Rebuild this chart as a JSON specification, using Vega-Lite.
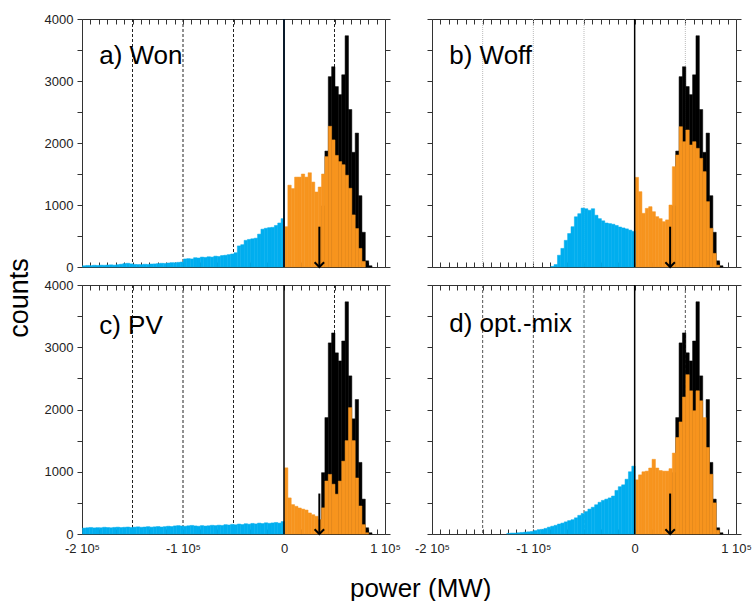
{
"$schema": "https://vega.github.io/schema/vega-lite/v6.json",
"background": "white",
"padding": {"left": 5, "top": 12, "right": 5, "bottom": 5},
"config": {
 "view": {"stroke": "#333", "strokeWidth": 1},
 "axis": {"domain": false, "grid": false, "tickColor": "#333", "labelFont": "Liberation Sans", "labelFontSize": 13, "labelColor": "#222"},
 "text": {"font": "Liberation Sans"},
 "title": {"font": "Liberation Sans", "fontWeight": "normal", "color": "#000"}
},
"datasets": {
 "refs": [{"x": -150000}, {"x": -100000}, {"x": -50000}, {"x": 50000}],
 "arrow": [{"x": 35000, "top": 650, "bottom": 0}],
 "labels": [{"p": "a", "label": "a) Won"}, {"p": "b", "label": "b) Woff"}, {"p": "c", "label": "c) PV"}, {"p": "d", "label": "d) opt.-mix"}],
 "load": [
  {"x":36667,"c":985},{"x":40000,"c":1870},{"x":43333,"c":3070},{"x":46667,"c":3230},{"x":50000,"c":2910},{"x":53333,"c":2780},{"x":56667,"c":3100},{"x":60000,"c":3730},{"x":63333,"c":2540},{"x":66667,"c":1850},{"x":70000,"c":2160},{"x":73333,"c":1150},{"x":76667,"c":560},{"x":80000,"c":100},{"x":83333,"c":20}
 ],
 "hist": [
  {"p":"a","s":"neg","x":-200000,"c":20},{"p":"a","s":"neg","x":-196667,"c":25},{"p":"a","s":"neg","x":-193333,"c":22},{"p":"a","s":"neg","x":-190000,"c":28},{"p":"a","s":"neg","x":-186667,"c":25},{"p":"a","s":"neg","x":-183333,"c":30},{"p":"a","s":"neg","x":-180000,"c":28},{"p":"a","s":"neg","x":-176667,"c":32},{"p":"a","s":"neg","x":-173333,"c":35},{"p":"a","s":"neg","x":-170000,"c":30},{"p":"a","s":"neg","x":-166667,"c":38},{"p":"a","s":"neg","x":-163333,"c":45},{"p":"a","s":"neg","x":-160000,"c":55},{"p":"a","s":"neg","x":-156667,"c":60},{"p":"a","s":"neg","x":-153333,"c":50},{"p":"a","s":"neg","x":-150000,"c":42},{"p":"a","s":"neg","x":-146667,"c":40},{"p":"a","s":"neg","x":-143333,"c":38},{"p":"a","s":"neg","x":-140000,"c":45},{"p":"a","s":"neg","x":-136667,"c":42},{"p":"a","s":"neg","x":-133333,"c":48},{"p":"a","s":"neg","x":-130000,"c":50},{"p":"a","s":"neg","x":-126667,"c":55},{"p":"a","s":"neg","x":-123333,"c":60},{"p":"a","s":"neg","x":-120000,"c":58},{"p":"a","s":"neg","x":-116667,"c":65},{"p":"a","s":"neg","x":-113333,"c":70},{"p":"a","s":"neg","x":-110000,"c":68},{"p":"a","s":"neg","x":-106667,"c":75},{"p":"a","s":"neg","x":-103333,"c":80},{"p":"a","s":"neg","x":-100000,"c":130},{"p":"a","s":"neg","x":-96667,"c":135},{"p":"a","s":"neg","x":-93333,"c":130},{"p":"a","s":"neg","x":-90000,"c":150},{"p":"a","s":"neg","x":-86667,"c":145},{"p":"a","s":"neg","x":-83333,"c":160},{"p":"a","s":"neg","x":-80000,"c":155},{"p":"a","s":"neg","x":-76667,"c":165},{"p":"a","s":"neg","x":-73333,"c":160},{"p":"a","s":"neg","x":-70000,"c":175},{"p":"a","s":"neg","x":-66667,"c":170},{"p":"a","s":"neg","x":-63333,"c":185},{"p":"a","s":"neg","x":-60000,"c":190},{"p":"a","s":"neg","x":-56667,"c":200},{"p":"a","s":"neg","x":-53333,"c":210},{"p":"a","s":"neg","x":-50000,"c":230},{"p":"a","s":"neg","x":-46667,"c":340},{"p":"a","s":"neg","x":-43333,"c":360},{"p":"a","s":"neg","x":-40000,"c":430},{"p":"a","s":"neg","x":-36667,"c":445},{"p":"a","s":"neg","x":-33333,"c":455},{"p":"a","s":"neg","x":-30000,"c":465},{"p":"a","s":"neg","x":-26667,"c":530},{"p":"a","s":"neg","x":-23333,"c":610},{"p":"a","s":"neg","x":-20000,"c":625},{"p":"a","s":"neg","x":-16667,"c":635},{"p":"a","s":"neg","x":-13333,"c":640},{"p":"a","s":"neg","x":-10000,"c":670},{"p":"a","s":"neg","x":-6667,"c":710},{"p":"a","s":"neg","x":-3333,"c":780},
  {"p":"a","s":"pos","x":0,"c":650},{"p":"a","s":"pos","x":3333,"c":1320},{"p":"a","s":"pos","x":6667,"c":1265},{"p":"a","s":"pos","x":10000,"c":1450},{"p":"a","s":"pos","x":13333,"c":1450},{"p":"a","s":"pos","x":16667,"c":1500},{"p":"a","s":"pos","x":20000,"c":1450},{"p":"a","s":"pos","x":23333,"c":1520},{"p":"a","s":"pos","x":26667,"c":1370},{"p":"a","s":"pos","x":30000,"c":1210},{"p":"a","s":"pos","x":33333,"c":1290},{"p":"a","s":"pos","x":36667,"c":1500},{"p":"a","s":"pos","x":40000,"c":1780},{"p":"a","s":"pos","x":43333,"c":2270},{"p":"a","s":"pos","x":46667,"c":2050},{"p":"a","s":"pos","x":50000,"c":1800},{"p":"a","s":"pos","x":53333,"c":1700},{"p":"a","s":"pos","x":56667,"c":1650},{"p":"a","s":"pos","x":60000,"c":1480},{"p":"a","s":"pos","x":63333,"c":1270},{"p":"a","s":"pos","x":66667,"c":840},{"p":"a","s":"pos","x":70000,"c":620},{"p":"a","s":"pos","x":73333,"c":300},{"p":"a","s":"pos","x":76667,"c":90},
  {"p":"b","s":"neg","x":-83333,"c":10},{"p":"b","s":"neg","x":-80000,"c":40},{"p":"b","s":"neg","x":-76667,"c":190},{"p":"b","s":"neg","x":-73333,"c":300},{"p":"b","s":"neg","x":-70000,"c":430},{"p":"b","s":"neg","x":-66667,"c":540},{"p":"b","s":"neg","x":-63333,"c":650},{"p":"b","s":"neg","x":-60000,"c":810},{"p":"b","s":"neg","x":-56667,"c":860},{"p":"b","s":"neg","x":-53333,"c":950},{"p":"b","s":"neg","x":-50000,"c":940},{"p":"b","s":"neg","x":-46667,"c":915},{"p":"b","s":"neg","x":-43333,"c":940},{"p":"b","s":"neg","x":-40000,"c":835},{"p":"b","s":"neg","x":-36667,"c":780},{"p":"b","s":"neg","x":-33333,"c":745},{"p":"b","s":"neg","x":-30000,"c":710},{"p":"b","s":"neg","x":-26667,"c":700},{"p":"b","s":"neg","x":-23333,"c":690},{"p":"b","s":"neg","x":-20000,"c":670},{"p":"b","s":"neg","x":-16667,"c":645},{"p":"b","s":"neg","x":-13333,"c":630},{"p":"b","s":"neg","x":-10000,"c":615},{"p":"b","s":"neg","x":-6667,"c":595},{"p":"b","s":"neg","x":-3333,"c":575},
  {"p":"b","s":"pos","x":0,"c":1446},{"p":"b","s":"pos","x":3333,"c":1215},{"p":"b","s":"pos","x":6667,"c":866},{"p":"b","s":"pos","x":10000,"c":946},{"p":"b","s":"pos","x":13333,"c":973},{"p":"b","s":"pos","x":16667,"c":892},{"p":"b","s":"pos","x":20000,"c":812},{"p":"b","s":"pos","x":23333,"c":780},{"p":"b","s":"pos","x":26667,"c":731},{"p":"b","s":"pos","x":30000,"c":760},{"p":"b","s":"pos","x":33333,"c":1000},{"p":"b","s":"pos","x":36667,"c":1618},{"p":"b","s":"pos","x":40000,"c":1806},{"p":"b","s":"pos","x":43333,"c":2263},{"p":"b","s":"pos","x":46667,"c":2021},{"p":"b","s":"pos","x":50000,"c":2210},{"p":"b","s":"pos","x":53333,"c":1968},{"p":"b","s":"pos","x":56667,"c":2021},{"p":"b","s":"pos","x":60000,"c":1914},{"p":"b","s":"pos","x":63333,"c":1753},{"p":"b","s":"pos","x":66667,"c":1538},{"p":"b","s":"pos","x":70000,"c":1054},{"p":"b","s":"pos","x":73333,"c":624},{"p":"b","s":"pos","x":76667,"c":220},{"p":"b","s":"pos","x":80000,"c":30},
  {"p":"c","s":"neg","x":-200000,"c":95},{"p":"c","s":"neg","x":-196667,"c":100},{"p":"c","s":"neg","x":-193333,"c":105},{"p":"c","s":"neg","x":-190000,"c":98},{"p":"c","s":"neg","x":-186667,"c":102},{"p":"c","s":"neg","x":-183333,"c":100},{"p":"c","s":"neg","x":-180000,"c":108},{"p":"c","s":"neg","x":-176667,"c":104},{"p":"c","s":"neg","x":-173333,"c":100},{"p":"c","s":"neg","x":-170000,"c":106},{"p":"c","s":"neg","x":-166667,"c":110},{"p":"c","s":"neg","x":-163333,"c":104},{"p":"c","s":"neg","x":-160000,"c":108},{"p":"c","s":"neg","x":-156667,"c":112},{"p":"c","s":"neg","x":-153333,"c":105},{"p":"c","s":"neg","x":-150000,"c":110},{"p":"c","s":"neg","x":-146667,"c":115},{"p":"c","s":"neg","x":-143333,"c":108},{"p":"c","s":"neg","x":-140000,"c":112},{"p":"c","s":"neg","x":-136667,"c":118},{"p":"c","s":"neg","x":-133333,"c":110},{"p":"c","s":"neg","x":-130000,"c":115},{"p":"c","s":"neg","x":-126667,"c":120},{"p":"c","s":"neg","x":-123333,"c":112},{"p":"c","s":"neg","x":-120000,"c":118},{"p":"c","s":"neg","x":-116667,"c":125},{"p":"c","s":"neg","x":-113333,"c":120},{"p":"c","s":"neg","x":-110000,"c":130},{"p":"c","s":"neg","x":-106667,"c":135},{"p":"c","s":"neg","x":-103333,"c":128},{"p":"c","s":"neg","x":-100000,"c":125},{"p":"c","s":"neg","x":-96667,"c":132},{"p":"c","s":"neg","x":-93333,"c":138},{"p":"c","s":"neg","x":-90000,"c":130},{"p":"c","s":"neg","x":-86667,"c":125},{"p":"c","s":"neg","x":-83333,"c":135},{"p":"c","s":"neg","x":-80000,"c":128},{"p":"c","s":"neg","x":-76667,"c":132},{"p":"c","s":"neg","x":-73333,"c":140},{"p":"c","s":"neg","x":-70000,"c":135},{"p":"c","s":"neg","x":-66667,"c":142},{"p":"c","s":"neg","x":-63333,"c":138},{"p":"c","s":"neg","x":-60000,"c":150},{"p":"c","s":"neg","x":-56667,"c":145},{"p":"c","s":"neg","x":-53333,"c":155},{"p":"c","s":"neg","x":-50000,"c":148},{"p":"c","s":"neg","x":-46667,"c":160},{"p":"c","s":"neg","x":-43333,"c":152},{"p":"c","s":"neg","x":-40000,"c":165},{"p":"c","s":"neg","x":-36667,"c":158},{"p":"c","s":"neg","x":-33333,"c":170},{"p":"c","s":"neg","x":-30000,"c":162},{"p":"c","s":"neg","x":-26667,"c":175},{"p":"c","s":"neg","x":-23333,"c":168},{"p":"c","s":"neg","x":-20000,"c":180},{"p":"c","s":"neg","x":-16667,"c":172},{"p":"c","s":"neg","x":-13333,"c":178},{"p":"c","s":"neg","x":-10000,"c":185},{"p":"c","s":"neg","x":-6667,"c":175},{"p":"c","s":"neg","x":-3333,"c":200},
  {"p":"c","s":"pos","x":0,"c":1063},{"p":"c","s":"pos","x":3333,"c":580},{"p":"c","s":"pos","x":6667,"c":472},{"p":"c","s":"pos","x":10000,"c":445},{"p":"c","s":"pos","x":13333,"c":418},{"p":"c","s":"pos","x":16667,"c":400},{"p":"c","s":"pos","x":20000,"c":385},{"p":"c","s":"pos","x":23333,"c":338},{"p":"c","s":"pos","x":26667,"c":310},{"p":"c","s":"pos","x":30000,"c":285},{"p":"c","s":"pos","x":33333,"c":231},{"p":"c","s":"pos","x":36667,"c":420},{"p":"c","s":"pos","x":40000,"c":851},{"p":"c","s":"pos","x":43333,"c":958},{"p":"c","s":"pos","x":46667,"c":800},{"p":"c","s":"pos","x":50000,"c":640},{"p":"c","s":"pos","x":53333,"c":850},{"p":"c","s":"pos","x":56667,"c":1170},{"p":"c","s":"pos","x":60000,"c":1500},{"p":"c","s":"pos","x":63333,"c":2030},{"p":"c","s":"pos","x":66667,"c":1500},{"p":"c","s":"pos","x":70000,"c":900},{"p":"c","s":"pos","x":73333,"c":450},{"p":"c","s":"pos","x":76667,"c":150},{"p":"c","s":"pos","x":80000,"c":20},
  {"p":"d","s":"neg","x":-126667,"c":10},{"p":"d","s":"neg","x":-123333,"c":15},{"p":"d","s":"neg","x":-120000,"c":15},{"p":"d","s":"neg","x":-116667,"c":20},{"p":"d","s":"neg","x":-113333,"c":25},{"p":"d","s":"neg","x":-110000,"c":30},{"p":"d","s":"neg","x":-106667,"c":35},{"p":"d","s":"neg","x":-103333,"c":40},{"p":"d","s":"neg","x":-100000,"c":55},{"p":"d","s":"neg","x":-96667,"c":70},{"p":"d","s":"neg","x":-93333,"c":75},{"p":"d","s":"neg","x":-90000,"c":90},{"p":"d","s":"neg","x":-86667,"c":110},{"p":"d","s":"neg","x":-83333,"c":125},{"p":"d","s":"neg","x":-80000,"c":140},{"p":"d","s":"neg","x":-76667,"c":160},{"p":"d","s":"neg","x":-73333,"c":175},{"p":"d","s":"neg","x":-70000,"c":195},{"p":"d","s":"neg","x":-66667,"c":215},{"p":"d","s":"neg","x":-63333,"c":230},{"p":"d","s":"neg","x":-60000,"c":260},{"p":"d","s":"neg","x":-56667,"c":300},{"p":"d","s":"neg","x":-53333,"c":330},{"p":"d","s":"neg","x":-50000,"c":360},{"p":"d","s":"neg","x":-46667,"c":400},{"p":"d","s":"neg","x":-43333,"c":430},{"p":"d","s":"neg","x":-40000,"c":470},{"p":"d","s":"neg","x":-36667,"c":510},{"p":"d","s":"neg","x":-33333,"c":540},{"p":"d","s":"neg","x":-30000,"c":560},{"p":"d","s":"neg","x":-26667,"c":580},{"p":"d","s":"neg","x":-23333,"c":610},{"p":"d","s":"neg","x":-20000,"c":700},{"p":"d","s":"neg","x":-16667,"c":760},{"p":"d","s":"neg","x":-13333,"c":790},{"p":"d","s":"neg","x":-10000,"c":880},{"p":"d","s":"neg","x":-6667,"c":1000},{"p":"d","s":"neg","x":-3333,"c":1090},
  {"p":"d","s":"pos","x":0,"c":870},{"p":"d","s":"pos","x":3333,"c":950},{"p":"d","s":"pos","x":6667,"c":1000},{"p":"d","s":"pos","x":10000,"c":1010},{"p":"d","s":"pos","x":13333,"c":1060},{"p":"d","s":"pos","x":16667,"c":1200},{"p":"d","s":"pos","x":20000,"c":1060},{"p":"d","s":"pos","x":23333,"c":1020},{"p":"d","s":"pos","x":26667,"c":1010},{"p":"d","s":"pos","x":30000,"c":1010},{"p":"d","s":"pos","x":33333,"c":1050},{"p":"d","s":"pos","x":36667,"c":1300},{"p":"d","s":"pos","x":40000,"c":1550},{"p":"d","s":"pos","x":43333,"c":1800},{"p":"d","s":"pos","x":46667,"c":2200},{"p":"d","s":"pos","x":50000,"c":2560},{"p":"d","s":"pos","x":53333,"c":2300},{"p":"d","s":"pos","x":56667,"c":1980},{"p":"d","s":"pos","x":60000,"c":2300},{"p":"d","s":"pos","x":63333,"c":2140},{"p":"d","s":"pos","x":66667,"c":1870},{"p":"d","s":"pos","x":70000,"c":1390},{"p":"d","s":"pos","x":73333,"c":960},{"p":"d","s":"pos","x":76667,"c":500},{"p":"d","s":"pos","x":80000,"c":60}
 ]
},
"title": {"text": "power (MW)", "orient": "bottom", "anchor": "middle", "fontSize": 26, "offset": 20, "dx": 42},
"vconcat": [{
 "title": {"text": "counts", "orient": "left", "anchor": "middle", "fontSize": 27, "offset": 10, "dx": -14},
 "spacing": 3,
 "vconcat": [
 {"hconcat": [
  {"width": 303, "height": 248,
   "layer": [
    {"data": {"name": "refs"}, "mark": {"type": "rule", "strokeDash": [3, 2], "strokeWidth": 1, "color": "#222"}, "encoding": {"x": {"field": "x", "type": "quantitative", "scale": {"domain": [-200000, 100000], "nice": false, "zero": false}, "axis": null}}},
    {"data": {"name": "load"}, "mark": {"type": "bar", "color": "#000", "stroke": "#000", "strokeWidth": 0.5, "binSpacing": 0},
     "encoding": {"x": {"field": "x", "type": "quantitative", "bin": {"binned": true, "step": 3333.33}, "scale": {"domain": [-200000, 100000], "nice": false, "zero": false}, "axis": {"orient": "bottom", "title": null, "values": [-200000,-191666.67,-183333.33,-175000,-166666.67,-158333.33,-150000,-141666.67,-133333.33,-125000,-116666.67,-108333.33,-100000,-91666.67,-83333.33,-75000,-66666.67,-58333.33,-50000,-41666.67,-33333.33,-25000,-16666.67,-8333.33,0,8333.33,16666.67,25000,33333.33,41666.67,50000,58333.33,66666.67,75000,83333.33,91666.67,100000], "tickSize": -5, "labels": false}},
      "y": {"field": "c", "type": "quantitative", "scale": {"domain": [0, 4000], "nice": false}, "axis": {"orient": "left", "title": null, "values": [0,500,1000,1500,2000,2500,3000,3500,4000], "format": "d", "labelExpr": "datum.value % 1000 == 0 ? datum.label : ''", "tickSize": 5, "labelPadding": 4, "labelOverlap": false}}}},
    {"data": {"name": "hist"}, "transform": [{"filter": "datum.p == 'a' && datum.s == 'pos'"}], "mark": {"type": "bar", "color": "#F7941E", "stroke": "#F7941E", "strokeWidth": 0.5, "binSpacing": 0},
     "encoding": {"x": {"field": "x", "type": "quantitative", "bin": {"binned": true, "step": 3333.33}, "axis": {"orient": "top", "title": null, "values": [-200000,-191666.67,-183333.33,-175000,-166666.67,-158333.33,-150000,-141666.67,-133333.33,-125000,-116666.67,-108333.33,-100000,-91666.67,-83333.33,-75000,-66666.67,-58333.33,-50000,-41666.67,-33333.33,-25000,-16666.67,-8333.33,0,8333.33,16666.67,25000,33333.33,41666.67,50000,58333.33,66666.67,75000,83333.33,91666.67,100000], "tickSize": -5, "labels": false}},
      "y": {"field": "c", "type": "quantitative", "axis": {"orient": "right", "title": null, "values": [0,500,1000,1500,2000,2500,3000,3500,4000], "tickSize": 5, "labels": false}}}},
    {"data": {"name": "hist"}, "transform": [{"filter": "datum.p == 'a' && datum.s == 'neg'"}], "mark": {"type": "bar", "color": "#00AEEF", "stroke": "#00AEEF", "strokeWidth": 0.5, "binSpacing": 0},
     "encoding": {"x": {"field": "x", "type": "quantitative", "bin": {"binned": true, "step": 3333.33}, "axis": null}, "y": {"field": "c", "type": "quantitative", "axis": null}}},
    {"data": {"values": [{}]}, "mark": {"type": "rule", "strokeWidth": 2, "color": "#0a1a2a"}, "encoding": {"x": {"datum": 0, "type": "quantitative", "axis": null}}},
    {"data": {"name": "arrow"}, "mark": {"type": "rule", "strokeWidth": 2, "color": "#000"}, "encoding": {"x": {"field": "x", "type": "quantitative", "axis": null}, "y": {"field": "top", "type": "quantitative", "axis": null}, "y2": {"field": "bottom"}}},
    {"data": {"name": "arrow"}, "mark": {"type": "point", "shape": "M-1,-1L0,0L1,-1", "filled": false, "size": 90, "strokeWidth": 2, "color": "#000", "opacity": 1}, "encoding": {"x": {"field": "x", "type": "quantitative", "axis": null}, "y": {"field": "bottom", "type": "quantitative", "axis": null}}},
    {"data": {"name": "labels"}, "transform": [{"filter": "datum.p == 'a'"}], "mark": {"type": "text", "align": "left", "baseline": "alphabetic", "fontSize": 26, "color": "#000"}, "encoding": {"x": {"datum": -183000, "type": "quantitative", "axis": null}, "y": {"datum": 3270, "type": "quantitative", "axis": null}, "text": {"field": "label"}}}
   ],
   "resolve": {"axis": {"x": "independent", "y": "independent"}}
  },
  {"width": 304, "height": 248,
   "layer": [
    {"data": {"name": "refs"}, "mark": {"type": "rule", "strokeDash": [1, 1], "strokeWidth": 1, "color": "#bbb"}, "encoding": {"x": {"field": "x", "type": "quantitative", "scale": {"domain": [-200000, 100000], "nice": false, "zero": false}, "axis": null}}},
    {"data": {"name": "load"}, "mark": {"type": "bar", "color": "#000", "stroke": "#000", "strokeWidth": 0.5, "binSpacing": 0},
     "encoding": {"x": {"field": "x", "type": "quantitative", "bin": {"binned": true, "step": 3333.33}, "scale": {"domain": [-200000, 100000], "nice": false, "zero": false}, "axis": {"orient": "bottom", "title": null, "values": [-200000,-191666.67,-183333.33,-175000,-166666.67,-158333.33,-150000,-141666.67,-133333.33,-125000,-116666.67,-108333.33,-100000,-91666.67,-83333.33,-75000,-66666.67,-58333.33,-50000,-41666.67,-33333.33,-25000,-16666.67,-8333.33,0,8333.33,16666.67,25000,33333.33,41666.67,50000,58333.33,66666.67,75000,83333.33,91666.67,100000], "tickSize": -5, "labels": false}},
      "y": {"field": "c", "type": "quantitative", "scale": {"domain": [0, 4000], "nice": false}, "axis": {"orient": "left", "title": null, "values": [0,500,1000,1500,2000,2500,3000,3500,4000], "tickSize": 5, "labels": false}}}},
    {"data": {"name": "hist"}, "transform": [{"filter": "datum.p == 'b' && datum.s == 'pos'"}], "mark": {"type": "bar", "color": "#F7941E", "stroke": "#F7941E", "strokeWidth": 0.5, "binSpacing": 0},
     "encoding": {"x": {"field": "x", "type": "quantitative", "bin": {"binned": true, "step": 3333.33}, "axis": {"orient": "top", "title": null, "values": [-200000,-191666.67,-183333.33,-175000,-166666.67,-158333.33,-150000,-141666.67,-133333.33,-125000,-116666.67,-108333.33,-100000,-91666.67,-83333.33,-75000,-66666.67,-58333.33,-50000,-41666.67,-33333.33,-25000,-16666.67,-8333.33,0,8333.33,16666.67,25000,33333.33,41666.67,50000,58333.33,66666.67,75000,83333.33,91666.67,100000], "tickSize": -5, "labels": false}},
      "y": {"field": "c", "type": "quantitative", "axis": {"orient": "right", "title": null, "values": [0,500,1000,1500,2000,2500,3000,3500,4000], "tickSize": 5, "labels": false}}}},
    {"data": {"name": "hist"}, "transform": [{"filter": "datum.p == 'b' && datum.s == 'neg'"}], "mark": {"type": "bar", "color": "#00AEEF", "stroke": "#00AEEF", "strokeWidth": 0.5, "binSpacing": 0},
     "encoding": {"x": {"field": "x", "type": "quantitative", "bin": {"binned": true, "step": 3333.33}, "axis": null}, "y": {"field": "c", "type": "quantitative", "axis": null}}},
    {"data": {"values": [{}]}, "mark": {"type": "rule", "strokeWidth": 1.5, "color": "#000"}, "encoding": {"x": {"datum": 0, "type": "quantitative", "axis": null}}},
    {"data": {"name": "arrow"}, "mark": {"type": "rule", "strokeWidth": 2, "color": "#000"}, "encoding": {"x": {"field": "x", "type": "quantitative", "axis": null}, "y": {"field": "top", "type": "quantitative", "axis": null}, "y2": {"field": "bottom"}}},
    {"data": {"name": "arrow"}, "mark": {"type": "point", "shape": "M-1,-1L0,0L1,-1", "filled": false, "size": 90, "strokeWidth": 2, "color": "#000", "opacity": 1}, "encoding": {"x": {"field": "x", "type": "quantitative", "axis": null}, "y": {"field": "bottom", "type": "quantitative", "axis": null}}},
    {"data": {"name": "labels"}, "transform": [{"filter": "datum.p == 'b'"}], "mark": {"type": "text", "align": "left", "baseline": "alphabetic", "fontSize": 26, "color": "#000"}, "encoding": {"x": {"datum": -183000, "type": "quantitative", "axis": null}, "y": {"datum": 3270, "type": "quantitative", "axis": null}, "text": {"field": "label"}}}
   ],
   "resolve": {"axis": {"x": "independent", "y": "independent"}}
  }
 ], "spacing": 47, "bounds": "flush"},
 {"hconcat": [
  {"width": 303, "height": 249,
   "layer": [
    {"data": {"name": "refs"}, "mark": {"type": "rule", "strokeDash": [3, 2], "strokeWidth": 1, "color": "#222"}, "encoding": {"x": {"field": "x", "type": "quantitative", "scale": {"domain": [-200000, 100000], "nice": false, "zero": false}, "axis": null}}},
    {"data": {"name": "load"}, "mark": {"type": "bar", "color": "#000", "stroke": "#000", "strokeWidth": 0.5, "binSpacing": 0},
     "encoding": {"x": {"field": "x", "type": "quantitative", "bin": {"binned": true, "step": 3333.33}, "scale": {"domain": [-200000, 100000], "nice": false, "zero": false}, "axis": {"orient": "bottom", "title": null, "values": [-200000,-191666.67,-183333.33,-175000,-166666.67,-158333.33,-150000,-141666.67,-133333.33,-125000,-116666.67,-108333.33,-100000,-91666.67,-83333.33,-75000,-66666.67,-58333.33,-50000,-41666.67,-33333.33,-25000,-16666.67,-8333.33,0,8333.33,16666.67,25000,33333.33,41666.67,50000,58333.33,66666.67,75000,83333.33,91666.67,100000], "tickSize": -5, "labelExpr": "datum.value == 0 ? '0' : (abs(datum.value) % 100000 == 0 ? (datum.value / 100000) + ' 10⁵' : '')", "labelPadding": 13, "labelOverlap": false, "labelFlush": false, "labelBound": false}},
      "y": {"field": "c", "type": "quantitative", "scale": {"domain": [0, 4000], "nice": false}, "axis": {"orient": "left", "title": null, "values": [0,500,1000,1500,2000,2500,3000,3500,4000], "format": "d", "labelExpr": "datum.value % 1000 == 0 ? datum.label : ''", "tickSize": 5, "labelPadding": 4, "labelOverlap": false}}}},
    {"data": {"name": "hist"}, "transform": [{"filter": "datum.p == 'c' && datum.s == 'pos'"}], "mark": {"type": "bar", "color": "#F7941E", "stroke": "#F7941E", "strokeWidth": 0.5, "binSpacing": 0},
     "encoding": {"x": {"field": "x", "type": "quantitative", "bin": {"binned": true, "step": 3333.33}, "axis": {"orient": "top", "title": null, "values": [-200000,-191666.67,-183333.33,-175000,-166666.67,-158333.33,-150000,-141666.67,-133333.33,-125000,-116666.67,-108333.33,-100000,-91666.67,-83333.33,-75000,-66666.67,-58333.33,-50000,-41666.67,-33333.33,-25000,-16666.67,-8333.33,0,8333.33,16666.67,25000,33333.33,41666.67,50000,58333.33,66666.67,75000,83333.33,91666.67,100000], "tickSize": -5, "labels": false}},
      "y": {"field": "c", "type": "quantitative", "axis": {"orient": "right", "title": null, "values": [0,500,1000,1500,2000,2500,3000,3500,4000], "tickSize": 5, "labels": false}}}},
    {"data": {"name": "hist"}, "transform": [{"filter": "datum.p == 'c' && datum.s == 'neg'"}], "mark": {"type": "bar", "color": "#00AEEF", "stroke": "#00AEEF", "strokeWidth": 0.5, "binSpacing": 0},
     "encoding": {"x": {"field": "x", "type": "quantitative", "bin": {"binned": true, "step": 3333.33}, "axis": null}, "y": {"field": "c", "type": "quantitative", "axis": null}}},
    {"data": {"values": [{}]}, "mark": {"type": "rule", "strokeWidth": 1.5, "color": "#000"}, "encoding": {"x": {"datum": 0, "type": "quantitative", "axis": null}}},
    {"data": {"name": "arrow"}, "mark": {"type": "rule", "strokeWidth": 2, "color": "#000"}, "encoding": {"x": {"field": "x", "type": "quantitative", "axis": null}, "y": {"field": "top", "type": "quantitative", "axis": null}, "y2": {"field": "bottom"}}},
    {"data": {"name": "arrow"}, "mark": {"type": "point", "shape": "M-1,-1L0,0L1,-1", "filled": false, "size": 90, "strokeWidth": 2, "color": "#000", "opacity": 1}, "encoding": {"x": {"field": "x", "type": "quantitative", "axis": null}, "y": {"field": "bottom", "type": "quantitative", "axis": null}}},
    {"data": {"name": "labels"}, "transform": [{"filter": "datum.p == 'c'"}], "mark": {"type": "text", "align": "left", "baseline": "alphabetic", "fontSize": 26, "color": "#000"}, "encoding": {"x": {"datum": -183000, "type": "quantitative", "axis": null}, "y": {"datum": 3220, "type": "quantitative", "axis": null}, "text": {"field": "label"}}}
   ],
   "resolve": {"axis": {"x": "independent", "y": "independent"}}
  },
  {"width": 304, "height": 249,
   "layer": [
    {"data": {"name": "refs"}, "mark": {"type": "rule", "strokeDash": [3, 2], "strokeWidth": 1, "color": "#555"}, "encoding": {"x": {"field": "x", "type": "quantitative", "scale": {"domain": [-200000, 100000], "nice": false, "zero": false}, "axis": null}}},
    {"data": {"name": "load"}, "mark": {"type": "bar", "color": "#000", "stroke": "#000", "strokeWidth": 0.5, "binSpacing": 0},
     "encoding": {"x": {"field": "x", "type": "quantitative", "bin": {"binned": true, "step": 3333.33}, "scale": {"domain": [-200000, 100000], "nice": false, "zero": false}, "axis": {"orient": "bottom", "title": null, "values": [-200000,-191666.67,-183333.33,-175000,-166666.67,-158333.33,-150000,-141666.67,-133333.33,-125000,-116666.67,-108333.33,-100000,-91666.67,-83333.33,-75000,-66666.67,-58333.33,-50000,-41666.67,-33333.33,-25000,-16666.67,-8333.33,0,8333.33,16666.67,25000,33333.33,41666.67,50000,58333.33,66666.67,75000,83333.33,91666.67,100000], "tickSize": -5, "labelExpr": "datum.value == 0 ? '0' : (abs(datum.value) % 100000 == 0 ? (datum.value / 100000) + ' 10⁵' : '')", "labelPadding": 13, "labelOverlap": false, "labelFlush": false, "labelBound": false}},
      "y": {"field": "c", "type": "quantitative", "scale": {"domain": [0, 4000], "nice": false}, "axis": {"orient": "left", "title": null, "values": [0,500,1000,1500,2000,2500,3000,3500,4000], "tickSize": 5, "labels": false}}}},
    {"data": {"name": "hist"}, "transform": [{"filter": "datum.p == 'd' && datum.s == 'pos'"}], "mark": {"type": "bar", "color": "#F7941E", "stroke": "#F7941E", "strokeWidth": 0.5, "binSpacing": 0},
     "encoding": {"x": {"field": "x", "type": "quantitative", "bin": {"binned": true, "step": 3333.33}, "axis": {"orient": "top", "title": null, "values": [-200000,-191666.67,-183333.33,-175000,-166666.67,-158333.33,-150000,-141666.67,-133333.33,-125000,-116666.67,-108333.33,-100000,-91666.67,-83333.33,-75000,-66666.67,-58333.33,-50000,-41666.67,-33333.33,-25000,-16666.67,-8333.33,0,8333.33,16666.67,25000,33333.33,41666.67,50000,58333.33,66666.67,75000,83333.33,91666.67,100000], "tickSize": -5, "labels": false}},
      "y": {"field": "c", "type": "quantitative", "axis": {"orient": "right", "title": null, "values": [0,500,1000,1500,2000,2500,3000,3500,4000], "tickSize": 5, "labels": false}}}},
    {"data": {"name": "hist"}, "transform": [{"filter": "datum.p == 'd' && datum.s == 'neg'"}], "mark": {"type": "bar", "color": "#00AEEF", "stroke": "#00AEEF", "strokeWidth": 0.5, "binSpacing": 0},
     "encoding": {"x": {"field": "x", "type": "quantitative", "bin": {"binned": true, "step": 3333.33}, "axis": null}, "y": {"field": "c", "type": "quantitative", "axis": null}}},
    {"data": {"values": [{}]}, "mark": {"type": "rule", "strokeWidth": 1.5, "color": "#000"}, "encoding": {"x": {"datum": 0, "type": "quantitative", "axis": null}}},
    {"data": {"name": "arrow"}, "mark": {"type": "rule", "strokeWidth": 2, "color": "#000"}, "encoding": {"x": {"field": "x", "type": "quantitative", "axis": null}, "y": {"field": "top", "type": "quantitative", "axis": null}, "y2": {"field": "bottom"}}},
    {"data": {"name": "arrow"}, "mark": {"type": "point", "shape": "M-1,-1L0,0L1,-1", "filled": false, "size": 90, "strokeWidth": 2, "color": "#000", "opacity": 1}, "encoding": {"x": {"field": "x", "type": "quantitative", "axis": null}, "y": {"field": "bottom", "type": "quantitative", "axis": null}}},
    {"data": {"name": "labels"}, "transform": [{"filter": "datum.p == 'd'"}], "mark": {"type": "text", "align": "left", "baseline": "alphabetic", "fontSize": 26, "color": "#000"}, "encoding": {"x": {"datum": -183000, "type": "quantitative", "axis": null}, "y": {"datum": 3250, "type": "quantitative", "axis": null}, "text": {"field": "label"}}}
   ],
   "resolve": {"axis": {"x": "independent", "y": "independent"}}
  }
 ], "spacing": 47, "bounds": "flush"}
 ]
}]
}
